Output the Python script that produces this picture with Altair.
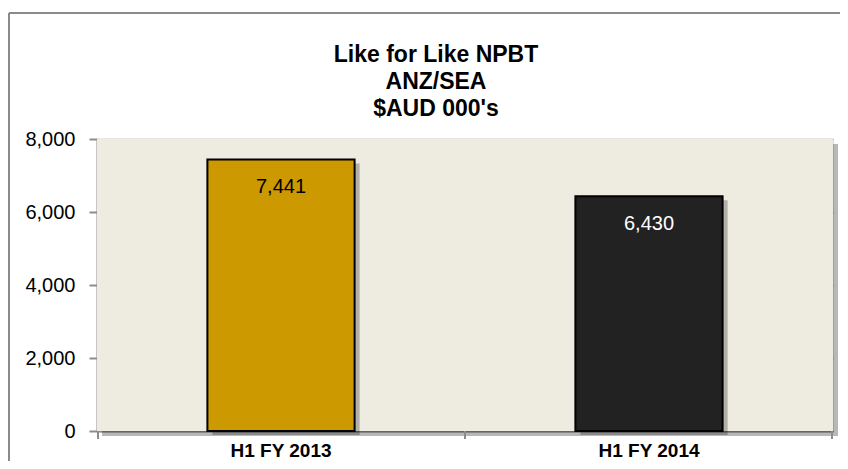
import altair as alt
import pandas as pd

categories = ["H1 FY 2013", "H1 FY 2014"]
values = [7441, 6430]
labels = ["7,441", "6,430"]
bar_colors = ["#CC9900", "#222222"]
label_colors = ["#000000", "#FFFFFF"]
title_lines = ["Like for Like NPBT", "ANZ/SEA", "$AUD 000's"]

FONT = "Liberation Sans, Arial, sans-serif"
W, H = 736, 292

df = pd.DataFrame({
    "cat": categories,
    "val": values,
    "lab": labels,
    "col": bar_colors,
    "tcol": label_colors,
})

xenc = alt.X("cat:N", sort=categories,
             scale=alt.Scale(paddingInner=0.6, paddingOuter=0.3),
             axis=alt.Axis(title=None, labelAngle=0, labelFont=FONT, labelFontSize=19,
                           labelFontWeight="bold", labelColor="#000", labelPadding=10,
                           ticks=False, domainColor="#8C8C8C", domainWidth=2, grid=False))
yenc = alt.Y("val:Q", scale=alt.Scale(domain=[0, 8000]),
             axis=alt.Axis(title=None, values=[0, 2000, 4000, 6000, 8000], format=",d",
                           labelFont=FONT, labelFontSize=20, labelColor="#000",
                           labelPadding=14, tickSize=8, tickColor="#8C8C8C", tickWidth=2,
                           domainColor="#8C8C8C", domainWidth=2,
                           gridColor="#9A9A9A", gridWidth=1.5))

base = alt.Chart(df)

# Drop shadow of the plot area and its background
plot_shadow = base.mark_rect(color="#000", opacity=0.15).encode(
    x=alt.value(5), x2=alt.value(W + 5), y=alt.value(5), y2=alt.value(H + 5))
plot_bg = base.mark_rect(color="#EEEBE0").encode(
    x=alt.value(0), x2=alt.value(W), y=alt.value(0), y2=alt.value(H))

shadow = base.mark_bar(color="#000", opacity=0.25, xOffset=5, yOffset=4).encode(
    x=xenc, y=yenc)
bars = base.mark_bar(stroke="#000", strokeWidth=2).encode(
    x=xenc, y=yenc, color=alt.Color("col:N", scale=None))
text = base.mark_text(font=FONT, fontSize=20, baseline="alphabetic", dy=34).encode(
    x=xenc, y=yenc, text="lab:N",
    color=alt.Color("tcol:N", scale=None))

# Category boundary ticks on the x axis
tick_layers = [
    base.mark_rule(color="#8C8C8C", strokeWidth=2).encode(
        x=alt.value(px), y=alt.value(H), y2=alt.value(H + 8))
    for px in (1, W / 2, W - 1)
]

# Chart title as three centred lines
title_layers = [
    alt.Chart(pd.DataFrame({"t": [line]})).mark_text(
        font=FONT, fontSize=23, fontWeight="bold", color="#000",
        align="center", baseline="alphabetic").encode(
        x=alt.value(339), y=alt.value(-77 + 27 * i), text="t:N")
    for i, line in enumerate(title_lines)
]

# Outer chart border (decorative frame)
border_top = base.mark_rule(color="#8A8A8A", strokeWidth=2).encode(
    x=alt.value(-88), x2=alt.value(W + 7), y=alt.value(-126))
border_left = base.mark_rule(color="#8A8A8A", strokeWidth=2).encode(
    x=alt.value(-88), y=alt.value(-126), y2=alt.value(H + 60))

chart = alt.layer(
    border_top, border_left, plot_shadow, plot_bg, shadow, bars, text,
    *tick_layers, *title_layers
).properties(
    width=W, height=H,
    autosize=alt.AutoSizeParams(type="none"),
    padding={"left": 89, "top": 131, "right": 7, "bottom": 30},
).configure_view(stroke=None).configure(background="#FFFFFF")

chart.save("out.html", embed_options={"renderer": "svg", "actions": False})
